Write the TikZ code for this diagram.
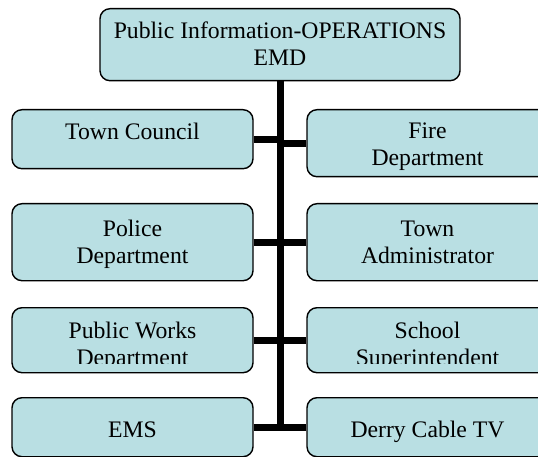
\documentclass[tikz,border=0pt]{standalone}
\usepackage{fontspec}
\setmainfont{Liberation Serif}
\usetikzlibrary{positioning}
\definecolor{unitfill}{RGB}{185,223,227}
\tikzset{
    unit/.style={draw=black, line width=1.4pt, fill=unitfill, rounded corners=10pt,
        inner xsep=0pt, inner ysep=0pt, align=center, anchor=north,
        font=\fontsize{23.7}{27}\selectfont},
    leftunit/.style={unit, minimum width=241pt},
    rightunit/.style={unit, minimum width=241pt},
    link/.style={line width=7pt, black},
    cut/.style={inner sep=0pt, anchor=base, font=\fontsize{23.7}{27}\selectfont}
}
\begin{document}
\begin{tikzpicture}[x=1pt, y=-1pt]
    \clip (0,0) rectangle (538,457);
    % head of the chart
    \node[unit, minimum width=360pt, text height=57pt, text depth=15pt] (head) at (280,8)
        {Public Information-OPERATIONS\\EMD};
    % left column
    \node[leftunit, text height=30pt, text depth=29pt] (council) at (132.5,109) {Town Council};
    \node[leftunit, text height=60pt, text depth=17pt] (police) at (132.5,203) {Police\\Department};
    \node[leftunit, text height=31pt, text depth=34pt] (works) at (132.5,307) {Public Works};
    \node[leftunit, text height=40pt, text depth=19pt] (ems) at (132.5,397) {EMS};
    % right column
    \node[rightunit, text height=56pt, text depth=11pt] (fire) at (427.5,109) {Fire\\Department};
    \node[rightunit, text height=60pt, text depth=17pt] (admin) at (427.5,203) {Town\\Administrator};
    \node[rightunit, text height=31pt, text depth=34pt] (school) at (427.5,307) {School};
    \node[rightunit, text height=40pt, text depth=19pt] (derry) at (427.5,397) {Derry Cable TV};
    % second lines cut off by the box
    \begin{scope}
        \clip (0,307) rectangle (538,363);
        \node[cut] (worksLow) at (132.5,365) {Department};
        \node[cut] (schoolLow) at (427.5,365) {Superintendent};
    \end{scope}
    % trunk and branches
    \draw[link] (head.south) -- (head.south |- ems.east);
    \draw[link] (council.east) -- (council.east -| head.south);
    \draw[link] (police.east) -- (police.east -| head.south);
    \draw[link] (works.east) -- (works.east -| head.south);
    \draw[link] (ems.east) -- (ems.east -| head.south);
    \draw[link] (fire.west) -- (fire.west -| head.south);
    \draw[link] (admin.west) -- (admin.west -| head.south);
    \draw[link] (school.west) -- (school.west -| head.south);
    \draw[link] (derry.west) -- (derry.west -| head.south);
\end{tikzpicture}
\end{document}
